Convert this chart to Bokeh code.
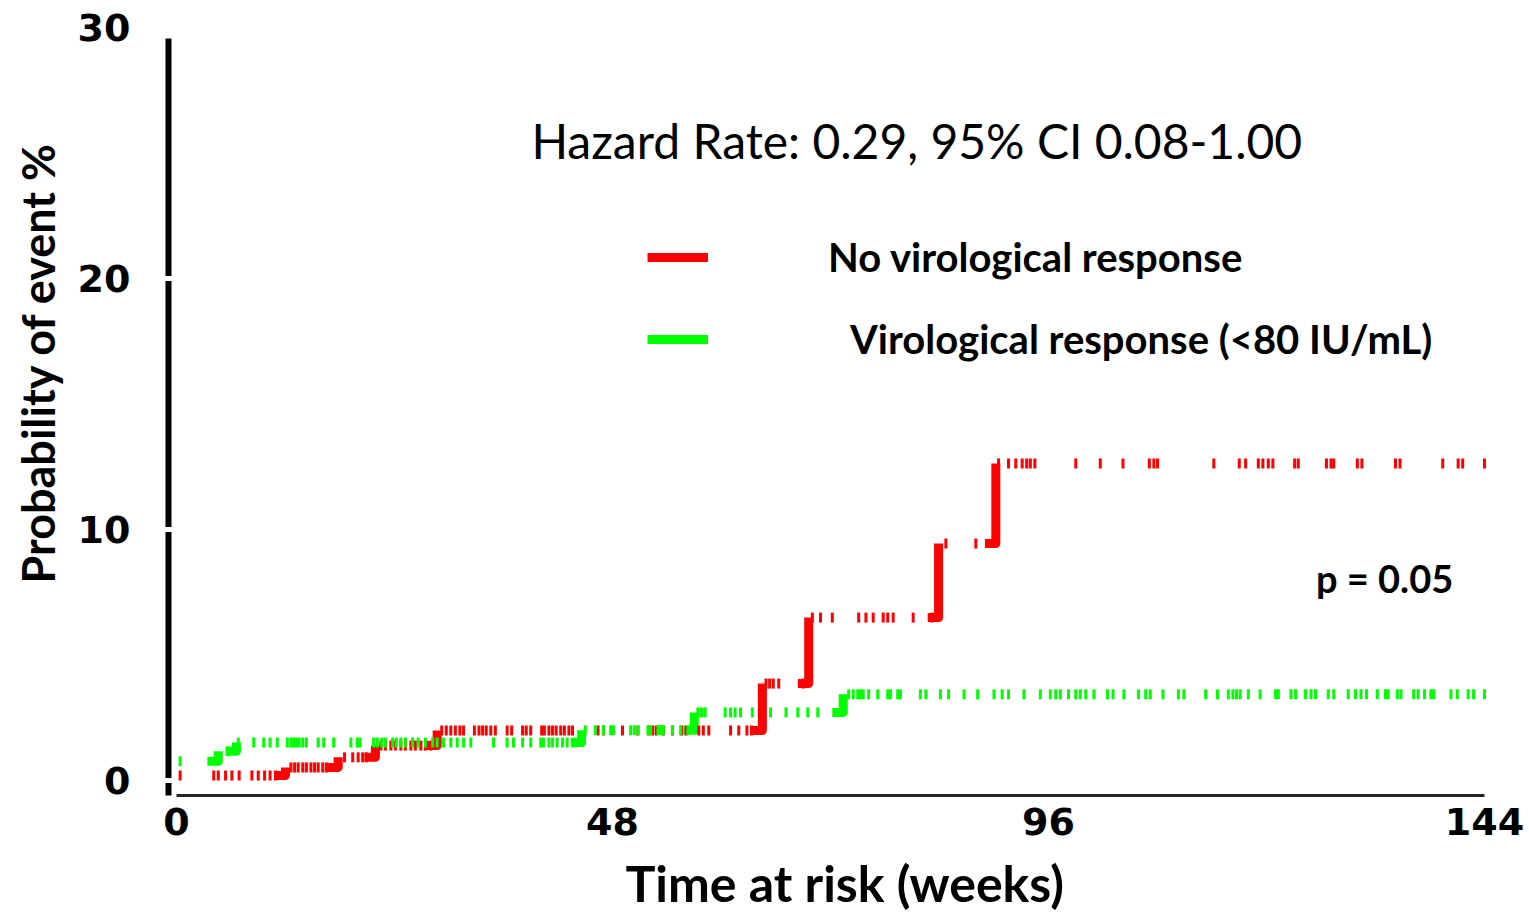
from bokeh.plotting import figure
from bokeh.models import (Range1d, Label, Legend, LegendItem, FixedTicker,
                          ColumnDataSource, LinearAxis, Title)
from bokeh.embed import file_html
from bokeh.resources import INLINE
import numpy as np

# ---------------- data ----------------
# No virological response (red): event times (weeks) and cumulative probability (%)
red_times = [0, 12.0, 17.8, 21.9, 28.7, 64.5, 69.6, 83.9, 90.2]
red_prob = [0.2, 0.52, 0.92, 1.39, 1.99, 3.86, 6.49, 9.44, 12.63]
red_censor = [0.4, 4.1, 4.6, 5.4, 6.1, 6.9, 8.3, 9.0, 9.7, 10.3, 10.9,
              12.6, 13.0, 13.4, 13.9, 14.3, 14.8, 15.2, 15.6, 16.1, 16.5,
              18.5, 19.4, 20.0, 20.5, 20.9,
              22.5, 23.0, 23.6, 24.1, 24.7, 25.2, 25.8, 26.3, 26.9, 27.4, 28.0,
              29.2, 29.7, 30.2, 30.7, 31.2, 31.6, 32.8, 33.3, 33.7, 34.1, 34.6, 35.1,
              36.4, 36.9, 38.1, 38.5, 39.0, 40.2, 40.5, 41.0, 41.4, 41.8, 42.3, 42.7,
              43.2, 43.6, 46.4, 47.0, 49.1, 50.8, 52.0, 52.4, 52.8, 53.6, 54.6, 55.6,
              56.1, 57.5, 58.0, 58.6, 61.0, 61.9, 62.8, 63.3,
              64.9, 65.3, 65.7, 66.3, 69.0,
              70.0, 70.9, 72.2, 75.1, 75.9, 76.7, 77.8, 78.3, 78.9, 81.1, 83.2,
              84.7, 88.0,
              90.5, 91.6, 92.4, 93.1, 93.6, 94.0, 94.5, 99.0, 101.7, 104.2, 107.1,
              107.6, 108.0, 114.2, 117.0, 117.7, 119.1, 119.6, 120.2, 120.7, 123.1,
              123.5, 126.6, 127.1, 127.4, 130.0, 130.5, 134.2, 134.7, 139.4, 141.1,
              141.6, 144.0]

# Virological response (<80 IU/mL) (green)
green_times = [0, 4.6, 6.6, 44.6, 57.0, 73.4]
green_prob = [0.76, 1.16, 1.51, 2.0, 2.71, 3.43]
green_censor = [0.4, 5.7,
                6.8, 8.5, 9.6, 10.3, 11.1, 12.2, 12.6, 12.9, 13.2, 13.5, 13.9, 14.3,
                15.6, 16.2, 17.3, 19.2, 19.9, 20.2, 21.7, 22.1, 22.6, 23.0, 23.8, 24.2,
                24.7, 25.2, 26.0, 26.6, 27.4, 28.2, 28.7, 29.4, 30.2, 30.9, 31.6, 32.4,
                34.9, 36.4, 37.1, 38.1, 39.0, 40.1, 40.4, 41.0, 41.4, 41.9, 42.5, 43.0,
                43.7,
                45.0, 46.1, 47.0, 47.8, 48.1, 50.0, 50.4, 50.8, 51.9, 52.2, 53.0, 53.3,
                53.6, 54.6, 55.5, 56.3,
                57.4, 57.8, 58.2, 60.4, 61.0, 61.5, 62.1, 63.4, 65.4, 67.1, 68.4, 69.5,
                70.6,
                74.0, 74.5, 75.0, 75.3, 75.6, 76.2, 77.2, 78.3, 78.6, 79.4, 79.7, 81.9,
                82.5, 84.1, 85.0, 86.7, 88.2, 90.0, 90.9, 91.6, 93.3, 95.1, 96.2, 96.8,
                97.3, 98.2, 99.0, 99.5, 100.1, 101.0, 102.5, 103.1, 104.3, 105.9, 106.7,
                107.2, 108.6, 110.3, 110.9, 113.3, 114.6, 115.8, 116.3, 116.7, 117.1,
                118.0, 119.3, 121.0, 121.3, 122.7, 123.2, 124.3, 124.9, 125.4, 126.8,
                127.4, 129.0, 129.8, 130.4, 131.0, 132.2, 133.1, 133.4, 134.4, 134.8,
                136.2, 136.7, 137.4, 138.1, 138.4, 140.3, 141.0, 142.2, 142.8, 144.0]

x_ticks = [0, 48, 96, 144]
y_ticks = [0, 10, 20, 30]

RED = "#FF0000"
GREEN = "#00FF00"
TICK_FONT = "DejaVu Sans"
TEXT_FONT = "Lato"

# ---------------- figure ----------------
p = figure(width=1529, height=913, output_backend="svg", toolbar_location=None,
           x_range=Range1d(-0.88, 144.66), y_range=Range1d(-0.6, 30.68),
           min_border_left=168, min_border_right=39, min_border_top=10,
           min_border_bottom=118)
p.outline_line_color = None
p.xgrid.visible = False
p.ygrid.visible = False
p.background_fill_color = "white"
p.border_fill_color = "white"

STUB = 1.2  # horizontal stub (weeks) drawn before each step


def step_paths(times, probs):
    xs, ys = [], []
    for i in range(1, len(times)):
        t = times[i]
        xs.append([t - STUB, t, t])
        ys.append([probs[i - 1], probs[i - 1], probs[i]])
    return xs, ys


def censor_levels(times, probs, cens):
    idx = np.searchsorted(np.array(times), np.array(cens), side="right") - 1
    return [probs[i] for i in idx]


rx, ry = step_paths(red_times, red_prob)
gx, gy = step_paths(green_times, green_prob)

r_red = p.multi_line(rx, ry, line_color=RED, line_width=9, line_join="round")
r_green = p.multi_line(gx, gy, line_color=GREEN, line_width=9, line_join="round")

src_rc = ColumnDataSource(dict(t=red_censor, y=censor_levels(red_times, red_prob, red_censor)))
src_gc = ColumnDataSource(dict(t=green_censor, y=censor_levels(green_times, green_prob, green_censor)))
p.rect(x="t", y="y", width=3, height=10, width_units="screen", height_units="screen",
       fill_color=RED, line_color=None, source=src_rc)
p.rect(x="t", y="y", width=3, height=10, width_units="screen", height_units="screen",
       fill_color=GREEN, line_color=None, source=src_gc)

# ---------------- x axis ----------------
xa = p.xaxis[0]
xa.ticker = FixedTicker(ticks=x_ticks)
xa.bounds = (0, 144)
xa.axis_line_color = "#262626"
xa.axis_line_width = 3
xa.major_tick_line_color = None
xa.minor_tick_line_color = None
xa.major_tick_in = 0
xa.major_tick_out = 0
xa.major_label_standoff = 12
xa.major_label_text_font = TICK_FONT
xa.major_label_text_font_style = "bold"
xa.major_label_text_font_size = "38px"
xa.major_label_text_color = "black"
xa.axis_label = " "
xa.axis_label_text_font_size = "1px"
xa.axis_label_standoff = 8

# ---------------- y axes ----------------
ya = p.yaxis[0]  # the drawn axis line with white gaps at the ticks
ya.ticker = FixedTicker(ticks=y_ticks)
ya.bounds = (-0.6, 29.56)
ya.axis_line_color = "black"
ya.axis_line_width = 6
ya.major_tick_line_color = "white"
ya.major_tick_line_width = 5
ya.major_tick_in = 7
ya.major_tick_out = 7
ya.minor_tick_line_color = None
ya.major_label_standoff = 0
ya.major_label_overrides = {t: "" for t in y_ticks}

yl = LinearAxis(ticker=FixedTicker(ticks=y_ticks))  # tick labels
yl.axis_line_color = None
yl.major_tick_line_color = None
yl.minor_tick_line_color = None
yl.major_tick_in = 0
yl.major_tick_out = 0
yl.major_label_standoff = 31
yl.major_label_text_font = TICK_FONT
yl.major_label_text_font_style = "bold"
yl.major_label_text_font_size = "38px"
yl.major_label_text_color = "black"
p.add_layout(yl, "left")

# axis titles
p.add_layout(Title(text="Time at risk (weeks)", align="left", offset=457,
                   vertical_align="bottom", standoff=2, text_font=TEXT_FONT,
                   text_font_style="bold", text_font_size="50px", text_color="black"),
             "below")
p.add_layout(Title(text="Probability of event %", align="left", offset=212,
                   vertical_align="top", standoff=16, text_font=TEXT_FONT,
                   text_font_style="bold", text_font_size="45px", text_color="black"),
             "left")

# ---------------- annotations ----------------
p.add_layout(Label(x=81.5, y=25.5, text="Hazard Rate: 0.29, 95% CI 0.08-1.00",
                   text_align="center", text_baseline="middle", text_font=TEXT_FONT,
                   text_font_size="48px", text_color="black"))
p.add_layout(Label(x=133.0, y=8.05, text="p = 0.05", text_align="center",
                   text_baseline="middle", text_font=TEXT_FONT, text_font_style="bold",
                   text_font_size="38px", text_color="black"))


def make_legend(label, renderer, loc, standoff):
    return Legend(items=[LegendItem(label=label, renderers=[renderer])], location=loc,
                  label_standoff=standoff, glyph_width=61, glyph_height=50,
                  label_height=50, padding=0, margin=0, border_line_color=None,
                  background_fill_alpha=0, label_text_font=TEXT_FONT,
                  label_text_font_style="bold", label_text_font_size="40px",
                  label_text_color="black", label_text_baseline="middle")


p.add_layout(make_legend("No virological response", r_red, (479, 513), 120), "center")
p.add_layout(make_legend("Virological response (<80 IU/mL)", r_green, (479, 431), 142), "center")

open("out.html", "w").write(file_html(p, INLINE))
